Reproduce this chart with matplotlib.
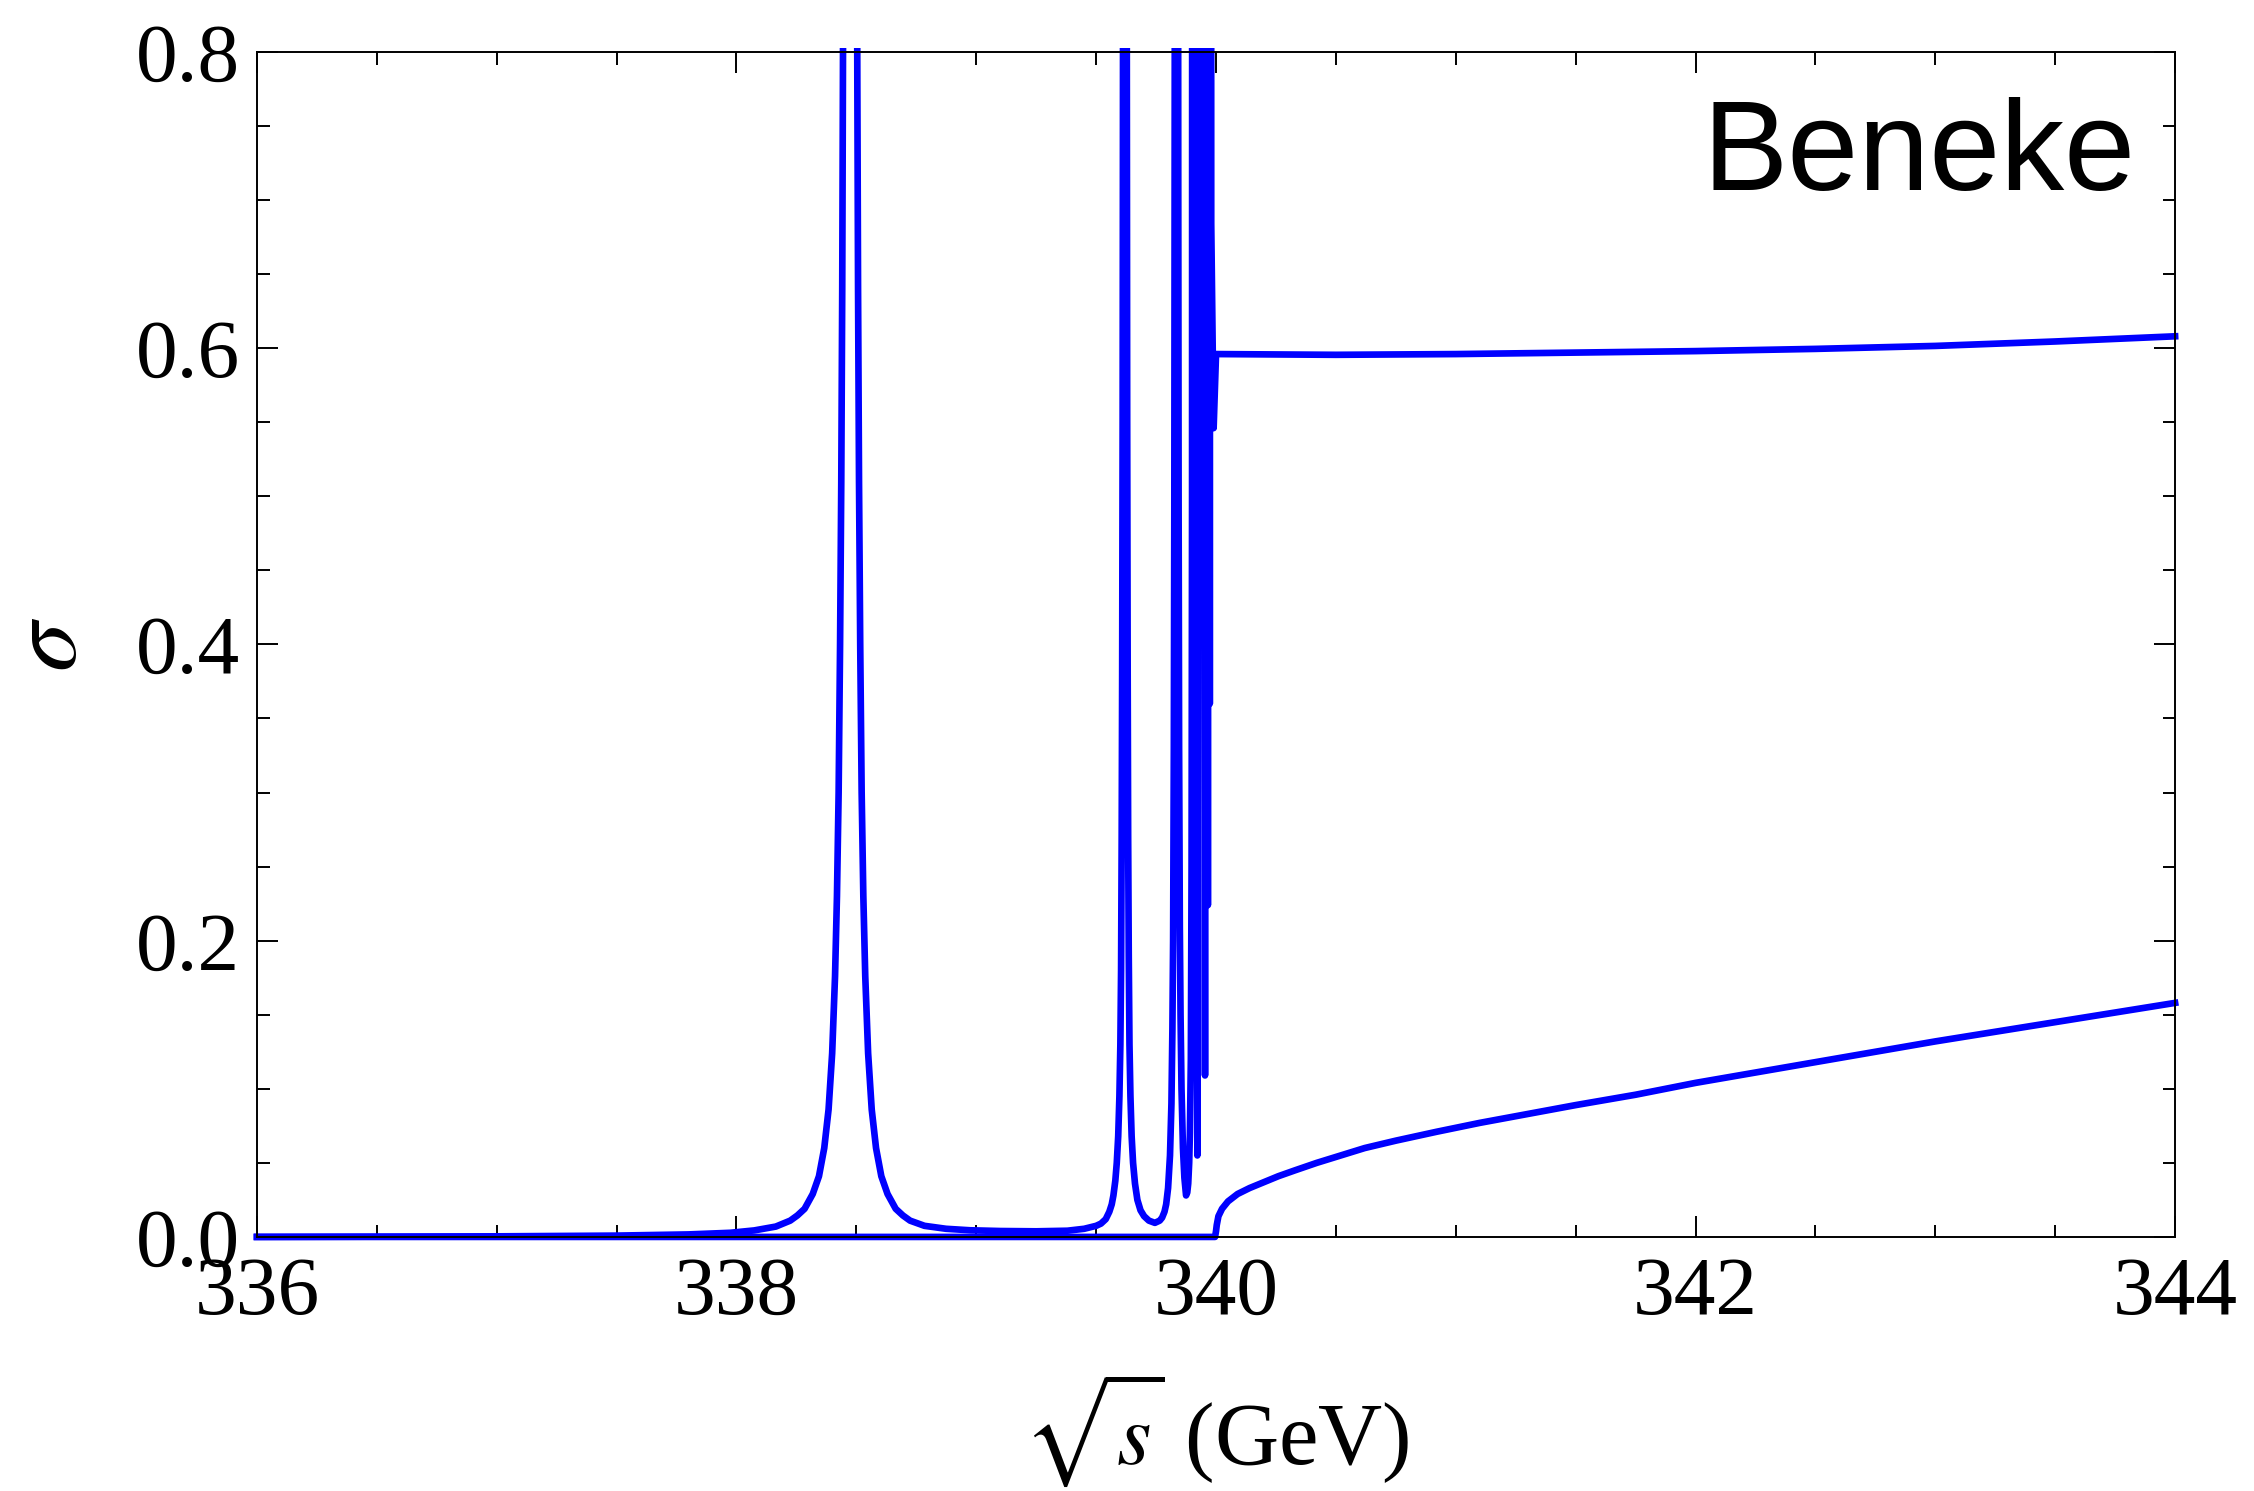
import matplotlib.pyplot as plt
from matplotlib.patches import Rectangle
from matplotlib.ticker import MultipleLocator

# sqrt(s) in GeV and sigma for the curve with the bound-state peaks
sqrt_s_full = [336.0, 336.5, 337.0, 337.5, 337.8, 337.974, 338.074, 338.164,
               338.224, 338.254, 338.284, 338.318, 338.344, 338.366, 338.384,
               338.399, 338.411, 338.419, 338.426, 338.432, 338.437, 338.441,
               338.444, 338.447,
               338.474,
               338.501, 338.504, 338.507, 338.511, 338.516, 338.522, 338.529,
               338.537, 338.549, 338.564, 338.582, 338.604, 338.630, 338.664,
               338.694, 338.724, 338.784, 338.874, 338.974, 339.1, 339.25,
               339.38, 339.45, 339.50, 339.52, 339.540, 339.555, 339.565,
               339.572, 339.580, 339.586, 339.592, 339.597, 339.601, 339.604,
               339.6065, 339.6085, 339.6105, 339.612,
               339.620,
               339.628, 339.6295, 339.6315, 339.6335, 339.636, 339.639, 339.643,
               339.648, 339.654, 339.662, 339.672, 339.685, 339.70, 339.72,
               339.745, 339.765, 339.775, 339.785, 339.792, 339.800, 339.808,
               339.814, 339.818, 339.821, 339.824, 339.826, 339.8275, 339.8285,
               339.835,
               339.8415, 339.8425, 339.844, 339.846, 339.849, 339.852, 339.856,
               339.862, 339.868, 339.875, 339.880, 339.884, 339.888, 339.891,
               339.895, 339.898, 339.900, 339.903,
               339.922, 339.940, 339.954, 339.961, 339.966, 339.970, 339.974,
               339.977, 339.980, 339.990, 340.0,
               340.5, 341.0, 341.5, 342.0, 342.5, 343.0, 343.5, 344.0]
sigma_full = [0.0, 0.0002, 0.0004, 0.0009, 0.0017, 0.0028, 0.0044, 0.007,
              0.011, 0.0145, 0.019, 0.029, 0.041, 0.060, 0.086,
              0.124, 0.176, 0.23, 0.30, 0.40, 0.51, 0.64,
              0.78, 0.96,
              3.0,
              0.96, 0.78, 0.64, 0.51, 0.40, 0.30, 0.23,
              0.176, 0.124, 0.086, 0.060, 0.041, 0.029, 0.019,
              0.0145, 0.011, 0.0075, 0.0055, 0.0045, 0.004, 0.0038,
              0.0042, 0.0055, 0.0075, 0.009, 0.012, 0.017, 0.022,
              0.028, 0.038, 0.050, 0.068, 0.095, 0.130, 0.18,
              0.27, 0.38, 0.55, 0.78,
              3.0,
              0.78, 0.55, 0.38, 0.27, 0.19, 0.13, 0.095,
              0.068, 0.050, 0.036, 0.025, 0.018, 0.014, 0.011,
              0.0095, 0.011, 0.013, 0.017, 0.022, 0.033, 0.055,
              0.09, 0.14, 0.20, 0.33, 0.49, 0.71, 0.95,
              3.0,
              0.95, 0.71, 0.49, 0.33, 0.21, 0.15, 0.10,
              0.06, 0.04, 0.028, 0.030, 0.036, 0.05, 0.07,
              0.12, 0.25, 0.5, 3.0,
              0.055, 3.0, 0.109, 3.0, 0.224, 3.0, 0.36,
              3.0, 0.684, 0.546, 0.596,
              0.5955, 0.596, 0.597, 0.598, 0.5995, 0.6015, 0.6045, 0.608]

# open production only, zero below threshold
sqrt_s_open = [336.0, 339.996, 340.0, 340.003, 340.01, 340.025, 340.05, 340.09,
               340.14, 340.2, 340.26, 340.33, 340.42, 340.52, 340.62, 340.75,
               340.92, 341.1, 341.3, 341.5, 341.75, 342.0, 342.5, 343.0,
               343.5, 344.0]
sigma_open = [0.0, 0.0, 0.004, 0.008, 0.014, 0.019, 0.024, 0.029,
              0.033, 0.037, 0.041, 0.045, 0.050, 0.055, 0.060, 0.065,
              0.071, 0.077, 0.083, 0.089, 0.096, 0.104, 0.118, 0.132,
              0.145, 0.158]

plt.rcParams['font.family'] = 'Liberation Serif'
plt.rcParams['mathtext.fontset'] = 'stix'

fig = plt.figure(figsize=(11.27, 7.455), dpi=200)
ax = fig.add_axes([0.1140, 0.1704, 0.8510, 0.7948])

clip = Rectangle((-0.003, -0.004), 1.006, 1.007, transform=ax.transAxes)
for xs, ys in [(sqrt_s_open, sigma_open), (sqrt_s_full, sigma_full)]:
    line, = ax.plot(xs, ys, color='#0000ff', lw=2.4, solid_joinstyle='round')
    line.set_clip_path(clip)

ax.set_xlim(336, 344)
ax.set_ylim(0, 0.8)
ax.xaxis.set_major_locator(MultipleLocator(2))
ax.xaxis.set_minor_locator(MultipleLocator(0.5))
ax.yaxis.set_major_locator(MultipleLocator(0.2))
ax.yaxis.set_minor_locator(MultipleLocator(0.05))
ax.tick_params(which='both', direction='in', top=True, right=True,
               width=0.7, labelsize=30)
ax.tick_params(which='major', length=7.6)
ax.tick_params(which='minor', length=4.5)
ax.tick_params(axis='x', pad=7)
ax.tick_params(axis='y', pad=6)
for s in ax.spines.values():
    s.set_linewidth(0.7)

ax.set_xlabel(r'$\sqrt{s}$ (GeV)', fontsize=32, labelpad=14)
ax.set_ylabel(r'$\sigma$', fontsize=36, labelpad=14)

ax.text(0.9795, 0.8835, 'Beneke', transform=ax.transAxes, ha='right',
        va='baseline', fontsize=46, family='Liberation Sans')

fig.savefig('out.png', dpi=200)
